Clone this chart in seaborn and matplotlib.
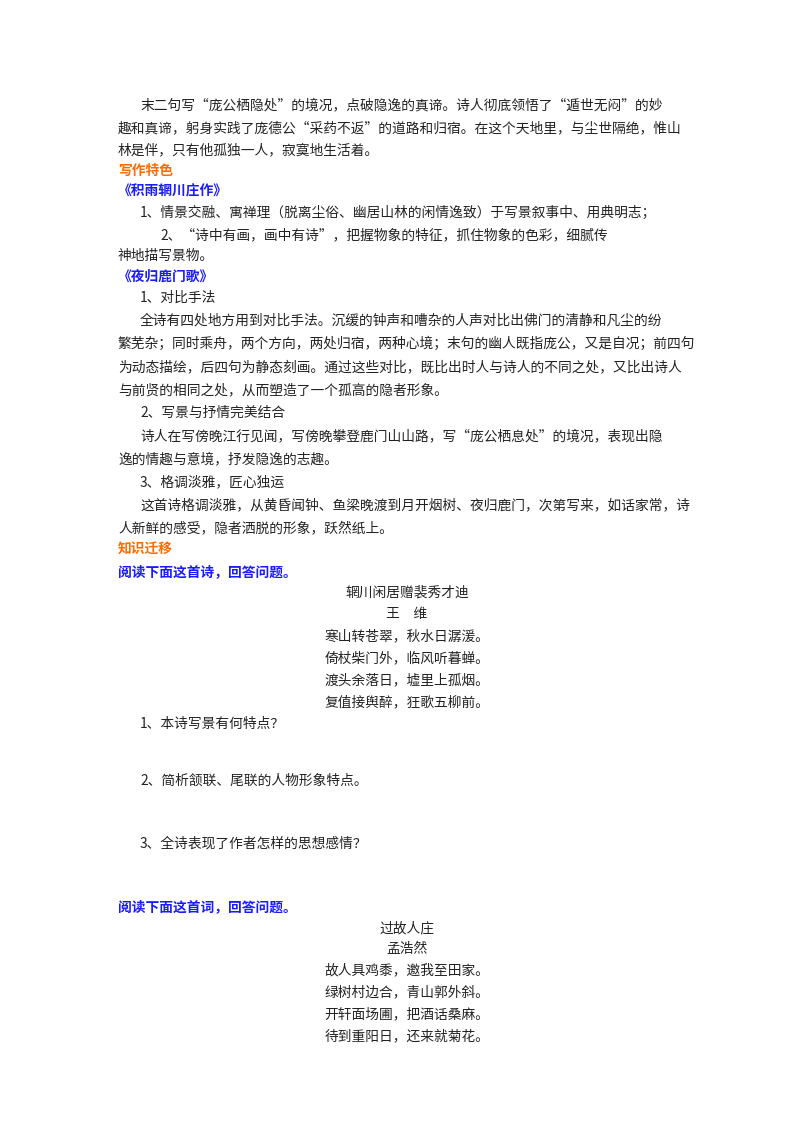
import matplotlib
matplotlib.use("Agg")
import matplotlib.pyplot as plt
import seaborn as sns

sns.set_theme(style="white")
plt.rcParams['font.family'] = ['Noto Sans CJK SC', 'DejaVu Sans']

BLACK = "#222222"
ORANGE = "#ff6a00"
BLUE = "#1a1aff"

# (x px, y px, text, colour, bold, align)
lines = [
    (140, 105, "末二句写“庞公栖隐处”的境况，点破隐逸的真谛。诗人彻底领悟了“遁世无闷”的妙", BLACK, False, "left"),
    (118, 128, "趣和真谛，躬身实践了庞德公“采药不返”的道路和归宿。在这个天地里，与尘世隔绝，惟山", BLACK, False, "left"),
    (118, 150, "林是伴，只有他孤独一人，寂寞地生活着。", BLACK, False, "left"),
    (118, 171, "写作特色", ORANGE, True, "left"),
    (118, 192, "《积雨辋川庄作》", BLUE, True, "left"),
    (140, 213, "1、情景交融、寓禅理（脱离尘俗、幽居山林的闲情逸致）于写景叙事中、用典明志；", BLACK, False, "left"),
    (160, 235, "2、“诗中有画，画中有诗”，把握物象的特征，抓住物象的色彩，细腻传", BLACK, False, "left"),
    (118, 256, "神地描写景物。", BLACK, False, "left"),
    (118, 277, "《夜归鹿门歌》", BLUE, True, "left"),
    (140, 298, "1、对比手法", BLACK, False, "left"),
    (140, 321, "全诗有四处地方用到对比手法。沉缓的钟声和嘈杂的人声对比出佛门的清静和凡尘的纷", BLACK, False, "left"),
    (118, 344, "繁芜杂；同时乘舟，两个方向，两处归宿，两种心境；末句的幽人既指庞公，又是自况；前四句", BLACK, False, "left"),
    (118, 367, "为动态描绘，后四句为静态刻画。通过这些对比，既比出时人与诗人的不同之处，又比出诗人", BLACK, False, "left"),
    (118, 390, "与前贤的相同之处，从而塑造了一个孤高的隐者形象。", BLACK, False, "left"),
    (140, 413, "2、写景与抒情完美结合", BLACK, False, "left"),
    (140, 436, "诗人在写傍晚江行见闻，写傍晚攀登鹿门山山路，写“庞公栖息处”的境况，表现出隐", BLACK, False, "left"),
    (118, 459, "逸的情趣与意境，抒发隐逸的志趣。", BLACK, False, "left"),
    (140, 482, "3、格调淡雅，匠心独运", BLACK, False, "left"),
    (140, 505, "这首诗格调淡雅，从黄昏闻钟、鱼梁晚渡到月开烟树、夜归鹿门，次第写来，如话家常，诗", BLACK, False, "left"),
    (118, 528, "人新鲜的感受，隐者洒脱的形象，跃然纸上。", BLACK, False, "left"),
    (118, 550, "知识迁移", ORANGE, True, "left"),
    (118, 572, "阅读下面这首诗，回答问题。", BLUE, True, "left"),
    (407, 593, "辋川闲居赠裴秀才迪", BLACK, False, "center"),
    (407, 614, "王　维", BLACK, False, "center"),
    (407, 636, "寒山转苍翠，秋水日潺湲。", BLACK, False, "center"),
    (407, 658, "倚杖柴门外，临风听暮蝉。", BLACK, False, "center"),
    (407, 680, "渡头余落日，墟里上孤烟。", BLACK, False, "center"),
    (407, 702, "复值接舆醉，狂歌五柳前。", BLACK, False, "center"),
    (140, 724, "1、本诗写景有何特点？", BLACK, False, "left"),
    (140, 781, "2、简析颔联、尾联的人物形象特点。", BLACK, False, "left"),
    (140, 844, "3、全诗表现了作者怎样的思想感情？", BLACK, False, "left"),
    (118, 907, "阅读下面这首词，回答问题。", BLUE, True, "left"),
    (407, 928, "过故人庄", BLACK, False, "center"),
    (407, 949, "孟浩然", BLACK, False, "center"),
    (407, 970, "故人具鸡黍，邀我至田家。", BLACK, False, "center"),
    (407, 992, "绿树村边合，青山郭外斜。", BLACK, False, "center"),
    (407, 1014, "开轩面场圃，把酒话桑麻。", BLACK, False, "center"),
    (407, 1036, "待到重阳日，还来就菊花。", BLACK, False, "center"),
]

W, H = 800, 1132
fig = plt.figure(figsize=(W / 100, H / 100), dpi=100)
fig.patch.set_facecolor("white")

for x, y, s, c, b, ha in lines:
    fig.text(x / W, 1 - y / H, s, color=c, fontsize=9.9,
             fontweight="bold" if b else "normal", ha=ha, va="center")

fig.savefig("out.png", dpi=100, facecolor="white")
